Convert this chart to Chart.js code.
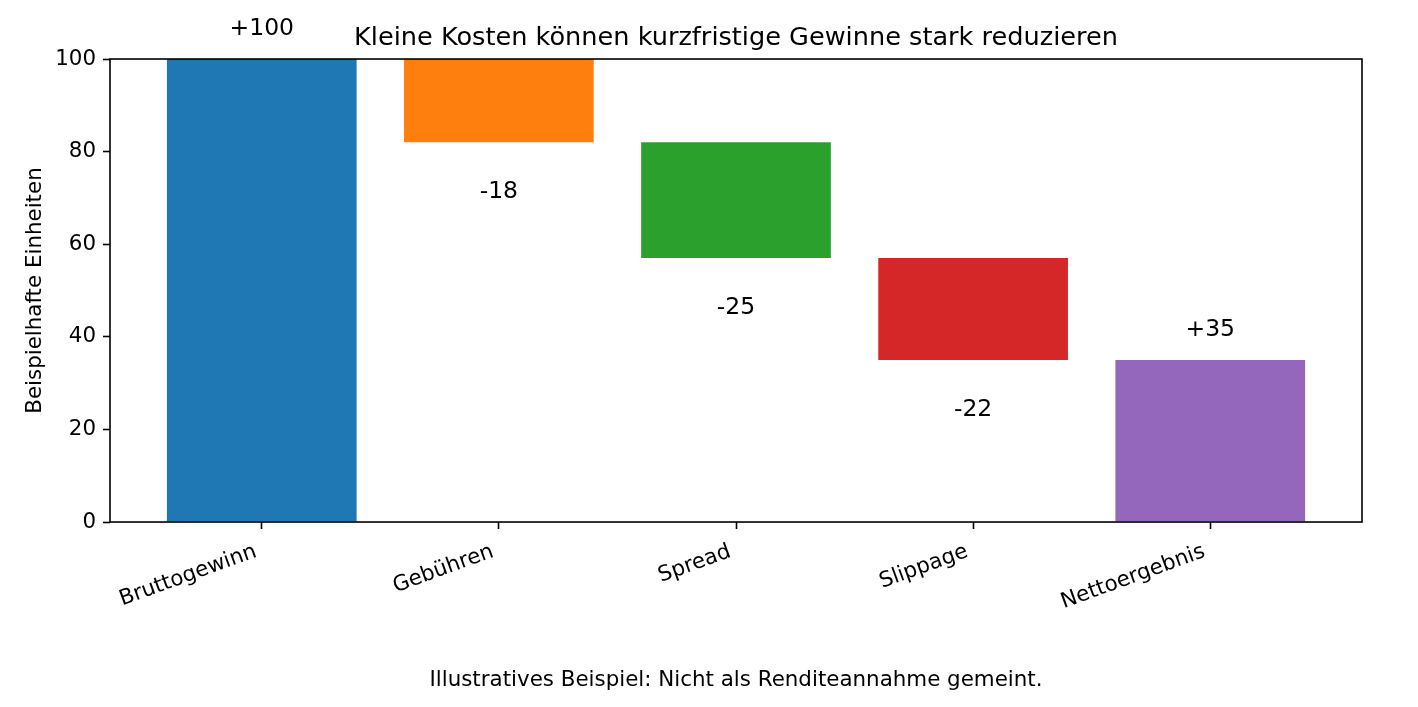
<!DOCTYPE html>
<html>
<head>
<meta charset="utf-8">
<script src="https://cdn.jsdelivr.net/npm/chart.js@4"></script>
<style>
  html, body { margin: 0; padding: 0; background: #ffffff; }
  #wrap { width: 1418px; height: 707px; position: relative; }
</style>
</head>
<body>
<div id="wrap"><canvas id="c"></canvas></div>
<script>
// ---- data ----
const categories = ['Bruttogewinn', 'Gebühren', 'Spread', 'Slippage', 'Nettoergebnis'];
const changes = [100, -18, -25, -22, 35];
const barBottoms = [0, 82, 57, 35, 0];
const barTops = [100, 100, 82, 57, 35];
const yTicks = [0, 20, 40, 60, 80, 100];
const titleText = 'Kleine Kosten können kurzfristige Gewinne stark reduzieren';
const captionText = 'Illustratives Beispiel: Nicht als Renditeannahme gemeint.';
const yAxisTitle = 'Beispielhafte Einheiten';

const barColors = ['#1f77b4', '#ff7f0e', '#2ca02c', '#d62728', '#9467bd'];
const FONT = "'DejaVu Sans', sans-serif";

const barData = categories.map((c, i) => ({ x: i, y: [barBottoms[i], barTops[i]] }));
const valueLabels = changes.map(v => (v > 0 ? '+' : '') + v);

const framePlugin = {
  id: 'frame',
  afterDatasetsDraw(chart) {
    const { ctx, chartArea: a } = chart;
    ctx.save();
    ctx.strokeStyle = '#000';
    ctx.lineWidth = 1.6;
    ctx.strokeRect(a.left, a.top, a.right - a.left, a.bottom - a.top);
    ctx.restore();
  }
};

const valueLabelPlugin = {
  id: 'valueLabels',
  afterDatasetsDraw(chart) {
    const { ctx } = chart;
    const meta = chart.getDatasetMeta(0);
    ctx.save();
    ctx.font = '23.5px ' + FONT;
    ctx.fillStyle = '#000';
    ctx.textAlign = 'center';
    ctx.textBaseline = 'middle';
    meta.data.forEach((el, i) => {
      const top = Math.min(el.y, el.base);
      const bottom = Math.max(el.y, el.base);
      const y = changes[i] >= 0 ? top - 30 : bottom + 50;
      ctx.fillText(valueLabels[i], el.x, y);
    });
    ctx.restore();
  }
};

new Chart(document.getElementById('c'), {
  type: 'bar',
  data: {
    datasets: [{
      data: barData,
      backgroundColor: barColors,
      borderWidth: 0,
      barPercentage: 0.8,
      categoryPercentage: 1.0
    }]
  },
  plugins: [framePlugin, valueLabelPlugin],
  options: {
    responsive: true,
    maintainAspectRatio: false,
    animation: false,
    devicePixelRatio: 1,
    layout: { padding: { left: 0, right: 56, top: 0, bottom: 0 } },
    plugins: {
      legend: { display: false },
      tooltip: { enabled: false },
      title: {
        display: true,
        text: titleText,
        fullSize: false,
        color: '#000',
        font: { family: FONT, size: 25.6, weight: 'normal', lineHeight: 1.2 },
        padding: { top: 23.4, bottom: 4.9 }
      },
      subtitle: {
        display: true,
        position: 'bottom',
        text: captionText,
        fullSize: false,
        color: '#000',
        font: { family: FONT, size: 21.4, weight: 'normal', lineHeight: 1.2 },
        padding: { top: 10, bottom: 14.2 }
      }
    },
    scales: {
      x: {
        type: 'linear',
        min: -0.64,
        max: 4.64,
        offset: false,
        afterBuildTicks(scale) {
          scale.ticks = categories.map((c, i) => ({ value: i }));
        },
        afterFit(scale) { scale.height = 135.1; },
        grid: {
          display: true,
          offset: false,
          drawOnChartArea: false,
          drawTicks: true,
          tickLength: 7,
          tickWidth: 1.6,
          tickColor: '#000'
        },
        border: { display: false },
        ticks: {
          autoSkip: false,
          minRotation: 20,
          maxRotation: 20,
          padding: 10,
          labelOffset: -6,
          color: '#000',
          font: { family: FONT, size: 21.4 },
          callback: (v) => categories[v]
        }
      },
      y: {
        min: 0,
        max: 100,
        afterBuildTicks(scale) {
          scale.ticks = yTicks.map(v => ({ value: v }));
        },
        afterFit(scale) { scale.width = 110; },
        grid: {
          display: true,
          drawOnChartArea: false,
          drawTicks: true,
          tickLength: 7,
          tickWidth: 1.6,
          tickColor: '#000'
        },
        border: { display: false },
        ticks: {
          padding: 7,
          color: '#000',
          font: { family: FONT, size: 21.4 }
        },
        title: {
          display: true,
          text: yAxisTitle,
          color: '#000',
          font: { family: FONT, size: 21.4, lineHeight: 1.2 },
          padding: { top: 22.6, bottom: 0 }
        }
      }
    }
  }
});
</script>
</body>
</html>
